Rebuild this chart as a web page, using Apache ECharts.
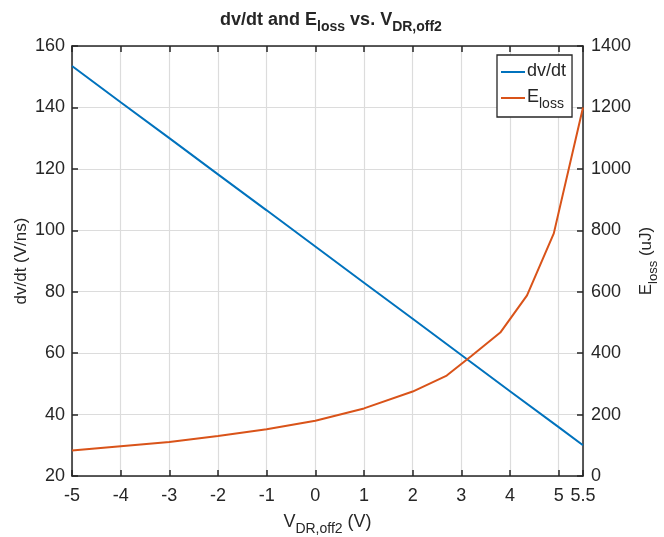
<!DOCTYPE html>
<html><head><meta charset="utf-8">
<script src="https://cdn.jsdelivr.net/npm/echarts@6/dist/echarts.min.js"></script>
<style>html,body{margin:0;padding:0;background:#fff}#c{width:664px;height:537px}</style>
</head><body><div id="c"></div>
<script>
// data
const vdrDv = [-5, -4, -3, -2, -1, 0, 1, 2, 3, 4, 5, 5.5];
const dvdt = [153.5, 141.7, 130.0, 118.2, 106.5, 94.7, 82.9, 71.2, 59.4, 47.6, 35.9, 30.0];
const vdrE = [-5, -4, -3, -2, -1, 0, 1, 2, 2.7, 3.2, 3.8, 4.35, 4.9, 5.5];
const eloss = [83, 97, 111, 130, 152, 180, 220, 275, 327, 390, 467, 588, 790, 1200];
const xTickLabels = ['-5', '-4', '-3', '-2', '-1', '0', '1', '2', '3', '4', '5', '5.5'];

const FONT = "'Liberation Sans', Arial, sans-serif";
const BLUE = '#0072BD', ORANGE = '#D95319';
const AX = '#262626', GRID = '#dcdcdc';

const chart = echarts.init(document.getElementById('c'), null, {renderer: 'canvas'});
const sub = (fs, pad) => ({fontSize: fs, fontFamily: FONT, color: AX, lineHeight: fs + 2, padding: [pad, 0, 0, 0], verticalAlign: 'top'});
const main = (fs, bold) => ({fontSize: fs, fontFamily: FONT, color: AX, fontWeight: bold ? 'bold' : 'normal', lineHeight: fs + 2, verticalAlign: 'top'});

chart.setOption({
  animation: false,
  backgroundColor: '#fff',
  title: {
    text: '{b|dv/dt and E}{s|loss}{b| vs. V}{s|DR,off2}',
    left: 326, textAlign: 'center', top: 6,
    textStyle: {rich: {b: main(18, true), s: Object.assign(sub(14, 9), {fontWeight: 'bold'})}}
  },
  legend: {
    orient: 'vertical', left: 497, top: 55,
    backgroundColor: '#fff', borderColor: AX, borderWidth: 1.3, borderRadius: 0,
    padding: [7, 6, 6, 4], itemGap: 8, itemWidth: 24, itemHeight: 2, icon: 'rect',
    data: ['dv/dt', 'E_loss'],
    formatter: n => n === 'E_loss' ? '{m|E}{s|loss}' : '{m|dv/dt}',
    textStyle: {padding: [0, 0, 0, -3], rich: {m: main(18, false), s: sub(14, 9)}}
  },
  grid: {left: 72, right: 81, top: 46, bottom: 61, containLabel: false, outerBoundsMode: 'none'},
  xAxis: [{
    type: 'value', min: -5, max: 5.5, interval: 1, position: 'bottom',
    name: '{m|V}{s|DR,off2}{m| (V)}', nameLocation: 'middle', nameGap: 37, nameMoveOverlap: false,
    nameTextStyle: {rich: {m: main(18, false), s: sub(14, 9)}},
    axisLine: {show: true, onZero: false, lineStyle: {color: AX, width: 1.5}},
    axisTick: {show: true, inside: true, length: 6, lineStyle: {color: AX, width: 1.5}},
    axisLabel: {color: AX, fontSize: 18, fontFamily: FONT, margin: 11,
      formatter: v => { const i = Math.round(v === 5.5 ? 11 : v + 5); return xTickLabels[i]; }},
    splitLine: {show: true, lineStyle: {color: GRID, width: 1.2}}
  }, {
    type: 'value', min: -5, max: 5.5, interval: 1, position: 'top',
    axisLine: {show: true, onZero: false, lineStyle: {color: AX, width: 1.5}},
    axisTick: {show: true, inside: true, length: 6, lineStyle: {color: AX, width: 1.5}},
    axisLabel: {show: false}, splitLine: {show: false}
  }],
  yAxis: [{
    type: 'value', min: 20, max: 160, interval: 20, position: 'left',
    name: 'dv/dt (V/ns)', nameLocation: 'middle', nameRotate: 90, nameGap: 42, nameMoveOverlap: false,
    nameTextStyle: {color: AX, fontSize: 17, fontFamily: FONT},
    axisLine: {show: true, onZero: false, lineStyle: {color: AX, width: 1.5}},
    axisTick: {show: true, inside: true, length: 6, lineStyle: {color: AX, width: 1.5}},
    axisLabel: {color: AX, fontSize: 18, fontFamily: FONT, margin: 7},
    splitLine: {show: true, lineStyle: {color: GRID, width: 1.2}}
  }, {
    type: 'value', min: 0, max: 1400, interval: 200, position: 'right',
    name: '{m|E}{s|loss}{m| (uJ)}', nameLocation: 'middle', nameRotate: 90, nameGap: 55, nameMoveOverlap: false,
    nameTextStyle: {rich: {m: main(17, false), s: sub(13, 9)}},
    axisLine: {show: true, onZero: false, lineStyle: {color: AX, width: 1.5}},
    axisTick: {show: true, inside: true, length: 6, lineStyle: {color: AX, width: 1.5}},
    axisLabel: {color: AX, fontSize: 18, fontFamily: FONT, margin: 8, formatter: v => String(v)},
    splitLine: {show: false}
  }],
  series: [{
    name: 'dv/dt', type: 'line', xAxisIndex: 0, yAxisIndex: 0,
    data: vdrDv.map((x, i) => [x, dvdt[i]]),
    showSymbol: false, symbol: 'none', lineStyle: {color: BLUE, width: 2}, itemStyle: {color: BLUE}
  }, {
    name: 'E_loss', type: 'line', xAxisIndex: 0, yAxisIndex: 1,
    data: vdrE.map((x, i) => [x, eloss[i]]),
    showSymbol: false, symbol: 'none', lineStyle: {color: ORANGE, width: 2}, itemStyle: {color: ORANGE}
  }]
});
</script></body></html>
